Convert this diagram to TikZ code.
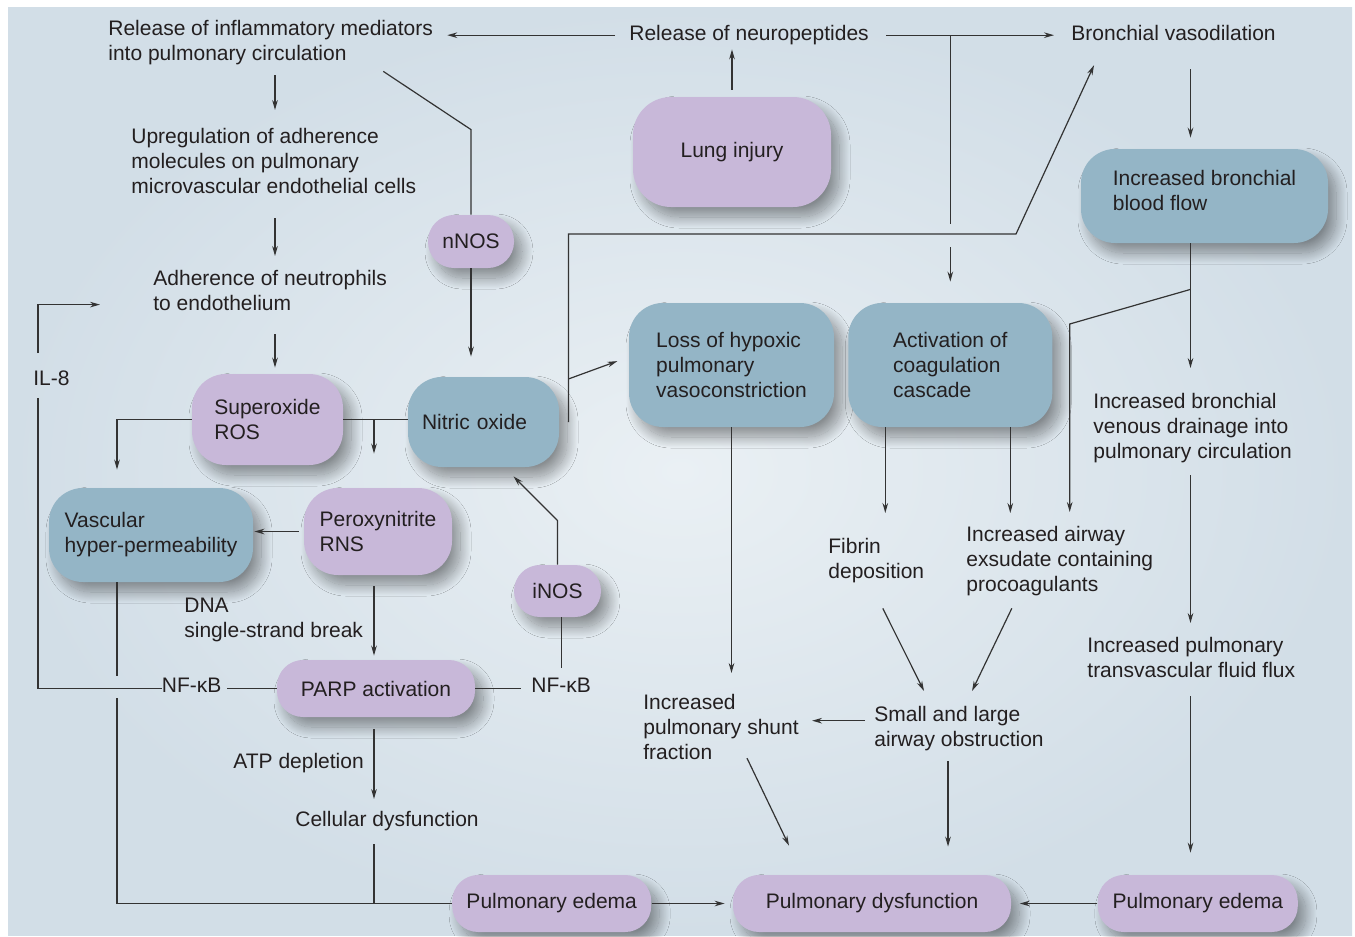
\documentclass[tikz,border=0pt]{standalone}
\usepackage{fontspec}
\setmainfont{Liberation Sans}
\usetikzlibrary{arrows.meta,positioning,shadows.blur}
\definecolor{ink}{HTML}{231F20}
\definecolor{linegrey}{HTML}{333333}
\definecolor{lilac}{HTML}{C8B8D9}
\definecolor{steel}{HTML}{94B5C6}
\definecolor{bgin}{HTML}{EAF0F4}
\definecolor{bgout}{HTML}{D2DEE7}
\tikzset{
	box/.style={rounded corners=17pt,align=left,text=ink,inner sep=0pt,
		blur shadow={shadow xshift=4pt,shadow yshift=-5pt,shadow blur radius=5.5pt,shadow blur steps=24,shadow opacity=40}},
	lilacbox/.style={box,fill=lilac},
	steelbox/.style={box,fill=steel},
	pill/.style={lilacbox,rounded corners=13pt,minimum height=28.5pt},
	txt/.style={align=left,text=ink,inner sep=0pt,anchor=north west},
	link/.style={draw=linegrey,line width=0.6pt}
}

\begin{document}
\begin{tikzpicture}[x=0.5pt,y=-0.5pt,font=\fontsize{10.5}{12.5}\selectfont,>={Stealth[length=5pt,width=2.8pt]}]
	\useasboundingbox (0,0) rectangle (1355,937);
	\shade[inner color=bgin,outer color=bgout] (8,7) rectangle (1352,935);

	\node[lilacbox,minimum width=99pt,minimum height=55pt,rounded corners=19pt] (lung) at (732,152) {Lung injury};
	\node[pill,minimum width=43pt,minimum height=26.5pt] (nnos) at (471,241.5) {nNOS};
	\node[lilacbox,minimum width=75.5pt,minimum height=45.5pt] (sox) at (267.5,419.5) {Superoxide\\ROS};
	\node[steelbox,minimum width=75.5pt,minimum height=45pt,inner xsep=7pt,text width=61.5pt] (no) at (483.5,422) {Nitric oxide};
	\node[steelbox,minimum width=102pt,minimum height=47pt] (vasc) at (151,535) {Vascular\\hyper-permeability};
	\node[lilacbox,minimum width=74pt,minimum height=43.5pt] (perox) at (378,531.5) {Peroxynitrite\\RNS};
	\node[pill,minimum width=43.5pt,minimum height=26pt] (inos) at (557.5,591) {iNOS};
	\node[steelbox,minimum width=102.5pt,minimum height=62pt] (hypox) at (731.5,365) {Loss of hypoxic\\pulmonary\\vasoconstriction};
	\node[steelbox,minimum width=102pt,minimum height=62pt,right=6.75pt of hypox] (coag) {Activation of\\coagulation\\cascade};
	\node[steelbox,minimum width=123.5pt,minimum height=47pt] (bflow) at (1204.5,196) {Increased bronchial\\blood flow\rule[-6pt]{0pt}{1pt}};
	\node[pill,minimum width=99pt] (parp) at (376,688.5) {PARP activation};
	\node[pill,minimum width=139pt] (dysf) at (872,903.5) {Pulmonary dysfunction};
	\node[pill,minimum width=99.5pt,left=40.5pt of dysf] (edl) {Pulmonary edema};
	\node[pill,minimum width=100pt,right=43pt of dysf] (edr) {Pulmonary edema};

	\node[txt] (infl) at (108,20) {Release of inflammatory mediators\\into pulmonary circulation};
	\node[txt] (neuro) at (629,25) {Release of neuropeptides};
	\node[txt] (bvaso) at (1071,25) {Bronchial vasodilation};
	\node[txt] (up) at (131,128) {Upregulation of adherence\\molecules on pulmonary\\microvascular endothelial cells};
	\node[txt] (adh) at (153,270) {Adherence of neutrophils\\to endothelium};
	\node[txt] (il8) at (33,370) {IL-8};
	\node[txt] (dna) at (184,598) {DNA\\single-strand break};
	\node[txt] (nfl) at (161.5,678) {NF-κB};
	\node[txt] (nfr) at (531,678) {NF-κB};
	\node[txt] (atp) at (233,753) {ATP depletion};
	\node[txt] (cell) at (295,811) {Cellular dysfunction};
	\node[txt] (fibrin) at (828,538) {Fibrin\\deposition};
	\node[txt] (exud) at (966,526) {Increased airway\\exsudate containing\\procoagulants};
	\node[txt] (venous) at (1093,393) {Increased bronchial\\venous drainage into\\pulmonary circulation};
	\node[txt] (flux) at (1087,637) {Increased pulmonary\\transvascular fluid flux};
	\node[txt] (shunt) at (643,694) {Increased\\pulmonary shunt\\fraction};
	\node[txt] (obstr) at (874,706) {Small and large\\airway obstruction};

	\coordinate (colA) at (275,0);
	\coordinate (colB) at ([xshift=-17pt]vasc.south);
	\coordinate (colC) at ([xshift=-1pt]parp.south);
	\coordinate (colE) at ([xshift=-7pt]bflow.north);
	\coordinate (colL) at ([xshift=2.5pt]il8.west);
	\coordinate (nout) at ([xshift=4.5pt]no.east);
	\coordinate (nbend) at (1016,234);

	\path[->,every edge/.style={link}]
		(neuro.west) edge[shorten <=7pt,shorten >=7pt] (neuro.west -| infl.east)
		(lung.north) edge[shorten <=3.5pt,shorten >=2pt] (lung.north |- neuro.south)
		(neuro.east) edge[shorten <=8.5pt,shorten >=8.5pt] (neuro.east -| bvaso.west)
		(infl.south -| colA) edge[shorten <=5pt,shorten >=9pt] (up.north -| colA)
		(up.south -| colA) edge[shorten <=12pt,shorten >=7pt] (adh.north -| colA)
		(adh.south -| colA) edge[shorten <=11.5pt,shorten >=3pt] (sox.north -| colA)
		(perox.west) edge[shorten <=2.5pt,shorten >=0.5pt] (perox.west -| vasc.east)
		([xshift=-2pt]perox.south) edge[shorten <=5.5pt,shorten >=2pt] ([xshift=-2pt]perox.south |- parp.north)
		(colC) edge[shorten <=6pt,shorten >=6pt] (colC |- cell.north)
		(edl.east) edge[shorten >=4pt] (dysf.west)
		(edr.west) edge[shorten >=4.2pt] (dysf.east)
		(hypox.south) edge[shorten >=10.5pt] (hypox.south |- shunt.north)
		([yshift=4pt]obstr.west) edge[shorten <=4.5pt,shorten >=6.5pt] ([yshift=4pt]obstr.west -| shunt.east)
		([shift={(26,-2)}]shunt.south) edge ([shift={(-83,-29)}]dysf.north)
		([xshift=-5.5pt]obstr.south) edge[shorten <=5pt,shorten >=14pt] ([xshift=-5.5pt]obstr.south |- dysf.north)
		([shift={(6.5,25)}]fibrin.south) edge ([shift={(-35,-15)}]obstr.north)
		([shift={(-48,12)}]exud.south) edge ([shift={(13,-15)}]obstr.north)
		([xshift=-32.5pt]coag.south) edge[shorten >=12.5pt] ([xshift=-32.5pt]coag.south |- fibrin.north)
		([xshift=30pt]coag.south) edge[shorten >=6.5pt] ([xshift=30pt]coag.south |- exud.north)
		(colE |- bvaso.south) edge[shorten <=14pt,shorten >=5.5pt] (colE)
		(colE |- bflow.south) edge[shorten >=12.5pt] (colE |- venous.north)
		(colE |- venous.south) edge[shorten <=6pt,shorten >=7pt] (colE |- flux.north)
		([yshift=-9pt]colE |- flux.south) edge[shorten >=11pt] (colE |- edr.north)
		;

	\draw[link] (neuro.east -| coag.north) -- ([yshift=5pt]coag.north |- nbend);
	\draw[link,->,shorten >=10.5pt] ([yshift=-6.5pt]coag.north |- nbend) -- (coag.north);
	\draw[link,->] (nout) |- (nbend) -- ([shift={(23,24)}]bvaso.south west);
	\draw[link,->,shorten >=6pt] ([yshift=-7pt]nout |- hypox.west) -- ([yshift=4pt]hypox.west);
	\draw[link,->,shorten >=7pt] ([yshift=-23pt]colE |- bflow.south) -- ([shift={(17,-41)}]coag.east) -- ([xshift=8.5pt]coag.east |- exud.north);

	\draw[link] ([shift={(-50,6)}]infl.south east) -- ([yshift=42.5pt]nnos.north) -- (nnos.north);
	\draw[link,->,shorten >=10pt] (nnos.south) -- (nnos.south |- no.north);
	\draw[link] (sox.east) -- (sox.east -| no.west);
	\draw[link,->,shorten >=17pt] ([xshift=-2pt]perox.north |- sox.east) -- ([xshift=-2pt]perox.north);
	\draw[link,->,shorten >=9pt] (sox.west) -| (colB |- vasc.north);
	\draw[link,->] (inos.north) -- ([yshift=22pt]inos.north) -- ([shift={(30,9)}]no.south);
	\draw[link] (inos.south -| nfr.north) -- ([yshift=5pt]nfr.north);
	\draw[link,shorten >=5pt] (parp.east) -- (parp.east -| nfr.west);
	\draw[link,shorten >=2.5pt] (parp.west) -- (parp.west -| nfl.east);
	\draw[link] (nfl.west |- parp.west) -| ([yshift=-6pt]colL |- il8.south);
	\draw[link,->,shorten >=26.5pt] ([yshift=8.5pt]colL |- il8.north) |- ([yshift=-7pt]adh.west);
	\draw[link] (colB) -- ([yshift=1pt]colB |- nfl.north);
	\draw[link] ([yshift=-2.5pt]colB |- nfl.south) |- (edl.west);
	\draw[link] ([yshift=-6.5pt]colC |- cell.south) -- (colC |- edl.west);
\end{tikzpicture}
\end{document}
